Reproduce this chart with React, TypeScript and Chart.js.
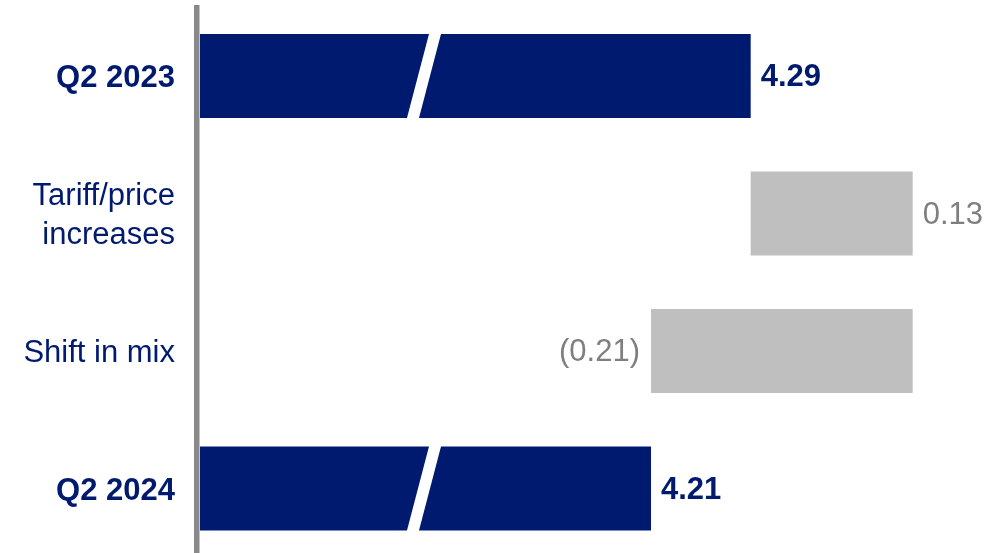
import React, { useEffect, useRef } from "react";
import { Chart, registerables } from "chart.js";

Chart.register(...registerables);

const categories: (string | string[])[] = ["Q2 2023", ["Tariff/price", "increases"], "Shift in mix", "Q2 2024"];
const kinds = ["total", "delta", "delta", "total"];
const values = [4.29, 0.13, -0.21, 4.21];
const valueLabels = ["4.29", "0.13", "(0.21)", "4.21"];
const breakBase = 3.848; // broken-axis start value of the total bars
const axisMin = 3.8456;
const axisMax = 4.4917;

const NAVY = "#001A70";
const GRAY_BAR = "#BFBFBF";
const GRAY_TEXT = "#7F7F7F";
const FONT = "'Liberation Sans', Arial, sans-serif";

function buildBars(): [number, number][] {
  const out: [number, number][] = [];
  let running = 0;
  values.forEach((v, i) => {
    if (kinds[i] === "total") {
      running = v;
      out.push([breakBase, v]);
    } else {
      const start = running;
      running = running + v;
      out.push([Math.min(start, running), Math.max(start, running)]);
    }
  });
  return out;
}

const breakPlugin = {
  id: "breakMarks",
  afterDatasetsDraw(chart: any) {
    const ctx = chart.ctx;
    const meta = chart.getDatasetMeta(0);
    ctx.save();
    meta.data.forEach((bar: any, i: number) => {
      if (kinds[i] !== "total") return;
      const left = Math.min(bar.x, bar.base);
      const top = bar.y - bar.height / 2;
      const bottom = bar.y + bar.height / 2;
      const slant = 22 / 84;
      const ext = 1;
      const topX = left + 229 + ext * slant;
      const botX = left + 207 - ext * slant;
      ctx.fillStyle = "#FFFFFF";
      ctx.beginPath();
      ctx.moveTo(topX, top - ext);
      ctx.lineTo(topX + 12, top - ext);
      ctx.lineTo(botX + 12, bottom + ext);
      ctx.lineTo(botX, bottom + ext);
      ctx.closePath();
      ctx.fill();
    });
    ctx.restore();
  },
};

const labelPlugin = {
  id: "valueLabels",
  afterDatasetsDraw(chart: any) {
    const ctx = chart.ctx;
    const meta = chart.getDatasetMeta(0);
    ctx.save();
    ctx.textBaseline = "middle";
    meta.data.forEach((bar: any, i: number) => {
      const isTotal = kinds[i] === "total";
      ctx.font = `${isTotal ? "bold " : ""}31px ${FONT}`;
      ctx.fillStyle = isTotal ? NAVY : GRAY_TEXT;
      const lo = Math.min(bar.x, bar.base);
      const hi = Math.max(bar.x, bar.base);
      if (values[i] < 0) {
        ctx.textAlign = "right";
        ctx.fillText(valueLabels[i], lo - 11, bar.y + 1.5);
      } else {
        ctx.textAlign = "left";
        ctx.fillText(valueLabels[i], hi + 10, bar.y + 1.5);
      }
    });
    ctx.restore();
  },
};

export default function App() {
  const ref = useRef<HTMLCanvasElement | null>(null);
  useEffect(() => {
    if (!ref.current) return;
    const chart = new Chart(ref.current, {
      type: "bar",
      data: {
        labels: categories as any,
        datasets: [
          {
            data: buildBars() as any,
            backgroundColor: kinds.map((k) => (k === "total" ? NAVY : GRAY_BAR)),
            borderWidth: 0,
            barPercentage: 0.611,
            categoryPercentage: 1,
          },
        ],
      },
      options: {
        indexAxis: "y",
        animation: false,
        responsive: false,
        layout: { padding: { top: 7.25, bottom: 2.75, left: 0, right: 0 } },
        plugins: { legend: { display: false }, tooltip: { enabled: false } },
        scales: {
          x: { display: false, min: axisMin, max: axisMax },
          y: {
            afterFit: (s: any) => {
              s.width = 197;
              s.paddingTop = 0;
              s.paddingBottom = 0;
            },
            grid: { display: true, color: "rgba(0,0,0,0)", drawTicks: false },
            border: { display: true, color: "#898989", width: 5.5 },
            ticks: {
              padding: 22,
              labelOffset: 2.5,
              color: NAVY,
              font: (c: any) => ({
                family: FONT,
                size: 31,
                lineHeight: 1.25,
                weight: kinds[c.index] === "total" ? "bold" : "normal",
              }),
            },
          },
        },
      },
      plugins: [breakPlugin, labelPlugin],
    });
    return () => chart.destroy();
  }, []);
  return (
    <div style={{ position: "fixed", left: 0, top: 0, width: 1002, height: 553, overflow: "hidden", background: "#fff" }}>
      <canvas ref={ref} width={1002} height={560} style={{ width: 1002, height: 560, display: "block" }} />
    </div>
  );
}
